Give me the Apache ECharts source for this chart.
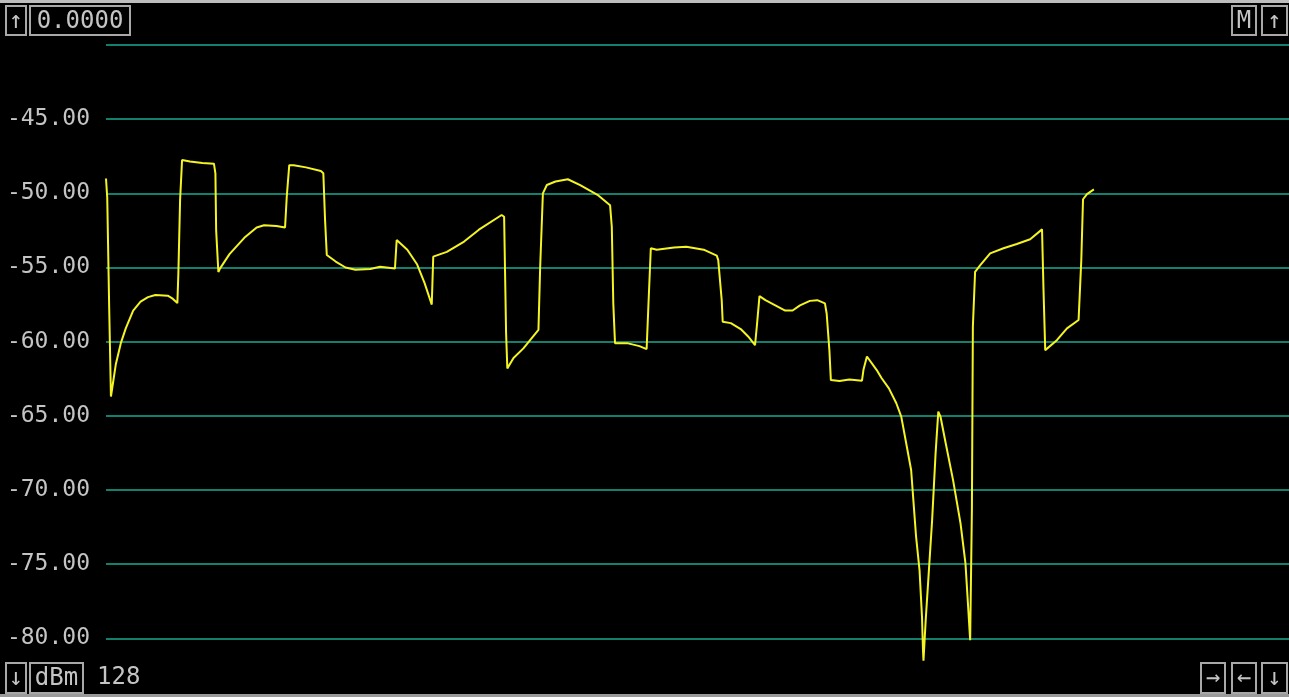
<!DOCTYPE html>
<html>
<head>
<meta charset="utf-8">
<title>Spectrum trace</title>
<script src="https://cdn.jsdelivr.net/npm/echarts@6/dist/echarts.min.js"></script>
<style>
  html, body { margin: 0; padding: 0; background: #000; }
  #chart { width: 1289px; height: 697px; }
</style>
</head>
<body>
<div id="chart"></div>
<script>
// trace bins (0..400) and measured level in dBm
const binIndex = [
  0, 0.5, 1.3, 2.0, 3, 4, 6, 8, 11, 14, 17, 20, 25, 27, 28.9, 29.3, 30.0, 30.8,
  34, 39, 43.7, 44.3, 44.6, 45.5, 46.2, 50, 56, 61, 64, 69, 72.5, 73.2, 74.2,
  76, 81, 87, 88.0, 88.7, 89.4, 93, 97, 101, 107, 111, 117.0, 117.7, 122, 126,
  129, 131.9, 132.5, 133.2, 138, 145, 151, 160.2, 161.2, 162.0, 162.5, 165, 169,
  175.1, 175.8, 176.9, 178.5, 182, 187, 192, 199, 204.1, 204.8, 205.4, 206.1,
  211, 216, 218.9, 219.6, 220.6, 223, 230, 235, 242, 247.3, 247.9, 249.3, 249.7,
  253, 257, 260, 262.8, 263.5, 264.6, 267, 271, 275, 278, 281, 285, 288, 291.1,
  291.8, 292.9, 293.5, 297, 301, 306.1, 306.7, 308.1, 312, 314, 317, 320, 322,
  324, 326, 327, 328, 329.4, 330.4, 330.8, 331.0, 331.9, 333.2, 334.5, 335.9,
  337.0, 337.9, 340, 343, 346, 348, 349.0, 349.9, 350.6, 351.0, 351.9, 354, 358,
  363.4, 368.8, 374.2, 379.0, 379.6, 380.3, 385, 389.1, 393.8, 394.5, 394.9,
  395.6, 397.2, 400
];
const levelDbm = [
  -49.0, -50.3, -57.8, -63.7, -62.6, -61.5, -60.1, -59.1, -57.9, -57.3, -57.0, -56.85, -56.9, -57.1, -57.4, -55.4, -50.45, -47.75,
  -47.85, -47.95, -48.0, -48.65, -52.5, -55.3, -55.06, -54.1, -53.0, -52.3, -52.15, -52.2, -52.3, -50.2, -48.1,
  -48.1, -48.25, -48.5, -48.65, -51.8, -54.16, -54.6, -55.0, -55.15, -55.1, -54.95, -55.06, -53.15, -53.8, -54.8,
  -56.05, -57.5, -54.27, -54.16, -53.95, -53.25, -52.45, -51.46, -51.58, -59.44, -61.8, -61.1, -60.45,
  -59.2, -54.95, -50.0, -49.44, -49.2, -49.05, -49.45, -50.1, -50.8, -52.25, -57.4, -60.1,
  -60.1, -60.3, -60.5, -57.65, -53.7, -53.8, -53.65, -53.6, -53.8, -54.2, -54.5, -57.2, -58.66,
  -58.75, -59.15, -59.65, -60.23, -59.0, -56.93, -57.2, -57.55, -57.9, -57.9, -57.55, -57.25, -57.2, -57.42,
  -58.1, -60.57, -62.59, -62.65, -62.55, -62.63, -61.9, -61.0, -61.9, -62.45, -63.15, -64.15, -65.05,
  -66.85, -68.65, -70.9, -73.15, -75.4, -78.55, -80.8, -81.5, -78.77, -75.4, -72.03, -67.53,
  -64.72, -65.06, -66.85, -69.35, -72.25, -74.95, -77.65, -80.12, -71.36, -59.0, -55.29, -54.84, -54.05,
  -53.7, -53.42, -53.1, -52.43, -56.52, -60.57, -59.9, -59.1, -58.54, -58.54, -54.5,
  -50.4, -50.05, -49.73
];

const refLevelText = "0.0000";
const unitText = "dBm";
const averageText = "128";

function drawTrace() {
  const chart = echarts.init(document.getElementById("chart"));
  const mono = "DejaVu Sans Mono";
  const grey = "#c4c4c4";
  const teal = "#12806c";
  const none = "rgba(0,0,0,0)";

  // little framed buttons of the analyser screen
  const boxes = [
    { x: 6, y: 6, w: 20, h: 29, text: "↑" },
    { x: 30, y: 6, w: 100, h: 29, text: refLevelText },
    { x: 1232, y: 6, w: 24, h: 29, text: "M" },
    { x: 1262, y: 6, w: 25, h: 29, text: "↑" },
    { x: 6, y: 663, w: 20, h: 30, text: "↓" },
    { x: 30, y: 663, w: 53, h: 30, text: unitText },
    { x: 1201, y: 663, w: 24, h: 30, text: "→" },
    { x: 1232, y: 663, w: 24, h: 30, text: "←" },
    { x: 1262, y: 663, w: 25, h: 30, text: "↓" }
  ];

  const graphics = [
    { type: "rect", shape: { x: 0, y: 0, width: 1289, height: 3 }, style: { fill: "#bdbdbd" }, z: 10 },
    { type: "rect", shape: { x: 0, y: 694, width: 1289, height: 3 }, style: { fill: "#9a9a9a" }, z: 10 }
  ];
  boxes.forEach(b => {
    graphics.push({
      type: "rect",
      shape: { x: b.x, y: b.y, width: b.w, height: b.h },
      style: { fill: "#000", stroke: "#a8a8a8", lineWidth: 2 },
      z: 10
    });
    graphics.push({
      type: "text",
      x: b.x + b.w / 2,
      y: b.y + b.h / 2 + 1,
      style: {
        text: b.text, fill: grey, font: "24px " + mono,
        textAlign: "center", textVerticalAlign: "middle"
      },
      z: 11
    });
  });
  graphics.push({
    type: "text", x: 97, y: 678,
    style: { text: averageText, fill: grey, font: "24px " + mono, textAlign: "left", textVerticalAlign: "middle" },
    z: 11
  });

  const option = {
    backgroundColor: "#000",
    animation: false,
    grid: { left: 106, top: 45, width: 1183, height: 623 },
    xAxis: {
      type: "value", min: 0, max: 479,
      show: false
    },
    // 1 dB ticks from -82; only every 5 dB gets a visible line and label
    yAxis: {
      type: "value", min: -82, max: -40, interval: 1,
      axisLine: { show: false },
      axisTick: { show: false },
      axisLabel: {
        margin: 16,
        color: grey,
        fontFamily: mono,
        fontSize: 23,
        padding: [0, 0, 9, 0],
        formatter: v => (v % 5 === 0 && v <= -45 && v >= -80) ? v.toFixed(2) : ""
      },
      splitLine: { lineStyle: { color: [none, none, teal, none, none], width: 2 } }
    },
    series: [{
      type: "line",
      data: binIndex.map((b, i) => [b, levelDbm[i]]),
      showSymbol: false,
      lineStyle: { color: "#f4f424", width: 2 },
      clip: true
    }],
    graphic: graphics
  };

  chart.setOption(option);
  window.addEventListener("resize", () => chart.resize());
}

document.addEventListener("DOMContentLoaded", drawTrace);
</script>
</body>
</html>
